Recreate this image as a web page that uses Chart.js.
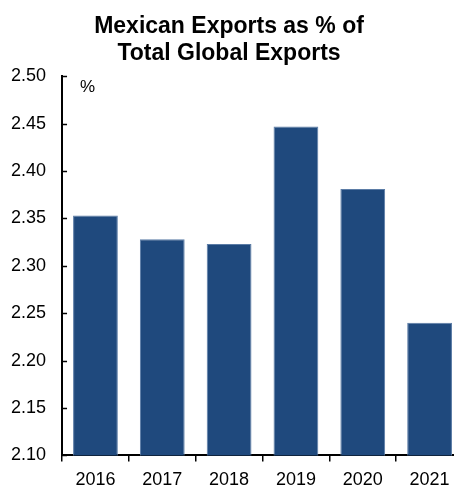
<!DOCTYPE html>
<html>
<head>
<meta charset="utf-8">
<script src="https://cdn.jsdelivr.net/npm/chart.js@4.4.1/dist/chart.umd.min.js"></script>
<style>
  html, body { margin: 0; padding: 0; background: #fff; overflow: hidden; }
  #wrap { width: 471px; height: 487px; position: relative; }
</style>
</head>
<body>
<div id="wrap"><canvas id="chart"></canvas></div>
<script>
const years = ["2016", "2017", "2018", "2019", "2020", "2021"];
const exportShare = [2.353, 2.328, 2.323, 2.447, 2.381, 2.240];
const titleLines = ["Mexican Exports as % of", "Total Global Exports"];
const unitLabel = "%";

const FONT = "'Liberation Sans', Arial, sans-serif";

// y ticks point into the plot, so draw them by hand
const innerTicks = {
  id: "innerTicks",
  afterDraw(chart) {
    const ctx = chart.ctx;
    const y = chart.scales.y;
    const area = chart.chartArea;
    ctx.save();
    ctx.strokeStyle = "#000";
    ctx.lineWidth = 1.5;
    y.ticks.forEach(t => {
      const py = Math.round(y.getPixelForValue(t.value)) + 0.5;
      ctx.beginPath();
      ctx.moveTo(area.left, py);
      ctx.lineTo(area.left + 5, py);
      ctx.stroke();
    });
    ctx.fillStyle = "#000";
    ctx.font = "17px " + FONT;
    ctx.textBaseline = "middle";
    ctx.fillText(unitLabel, area.left + 18, area.top + 11);
    ctx.restore();
  }
};

const ctx = document.getElementById("chart").getContext("2d");
new Chart(ctx, {
  type: "bar",
  data: {
    labels: years,
    datasets: [{
      data: exportShare,
      backgroundColor: "#1F497D",
      borderColor: "#5B7CA6",
      borderWidth: 1,
      categoryPercentage: 1,
      barPercentage: 0.67
    }]
  },
  options: {
    responsive: true,
    maintainAspectRatio: false,
    animation: false,
    layout: { padding: { left: -5, right: 8, top: 0, bottom: -12 } },
    plugins: {
      legend: { display: false },
      tooltip: { enabled: false },
      title: {
        display: true,
        text: titleLines,
        color: "#000",
        font: { family: FONT, size: 23, weight: "bold", lineHeight: 1.18 },
        padding: { top: 13, bottom: 9 }
      }
    },
    scales: {
      x: {
        grid: {
          offset: true,
          drawOnChartArea: false,
          color: "#000",
          lineWidth: 1.5,
          tickLength: 6
        },
        border: { color: "#000", width: 2 },
        ticks: {
          color: "#000",
          font: { family: FONT, size: 18 },
          padding: 8
        }
      },
      y: {
        min: 2.10,
        max: 2.50,
        grid: { drawOnChartArea: false, drawTicks: false },
        border: { color: "#000", width: 2 },
        ticks: {
          stepSize: 0.05,
          color: "#000",
          font: { family: FONT, size: 18 },
          padding: 16,
          callback: v => v.toFixed(2)
        }
      }
    }
  },
  plugins: [innerTicks]
});
</script>
</body>
</html>
